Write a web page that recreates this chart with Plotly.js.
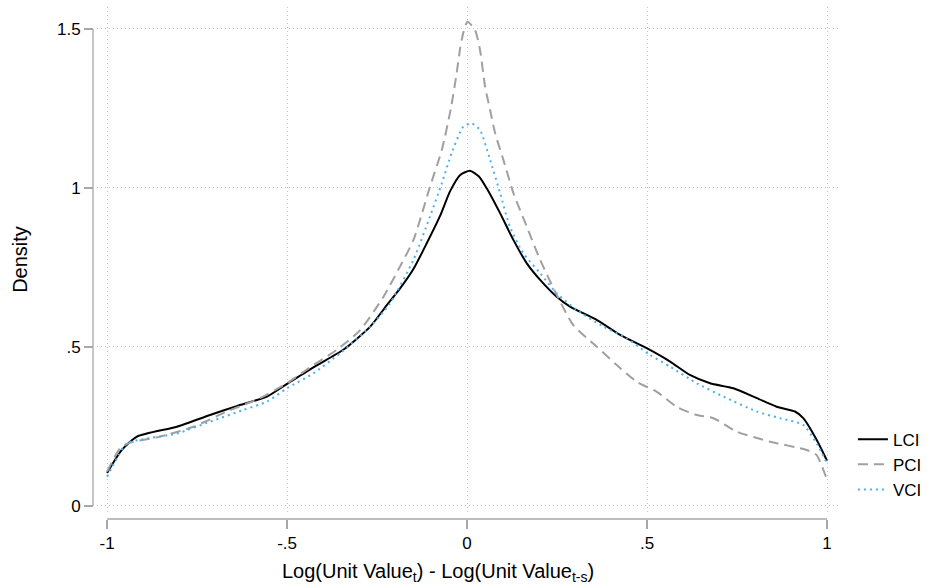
<!DOCTYPE html>
<html>
<head>
<meta charset="utf-8">
<script src="https://cdn.plot.ly/plotly-3.0.1.min.js"></script>
<style>html,body{margin:0;padding:0;background:#fff;}#chart{width:935px;height:586px;}</style>
</head>
<body>
<div id="chart"></div>
<script>
const seriesNames = ["LCI", "PCI", "VCI"];

const lciX = [-1, -0.96, -0.917, -0.806, -0.714, -0.64, -0.556, -0.5, -0.427, -0.344, -0.269, -0.228, -0.186, -0.149, -0.112, -0.075, -0.047, -0.019, 0.008, 0.033, 0.055, 0.092, 0.129, 0.166, 0.203, 0.249, 0.286, 0.36, 0.425, 0.499, 0.564, 0.619, 0.675, 0.74, 0.805, 0.86, 0.911, 0.934, 0.971, 1.0];
const lciY = [0.104, 0.175, 0.218, 0.249, 0.286, 0.314, 0.344, 0.384, 0.436, 0.491, 0.564, 0.624, 0.684, 0.745, 0.826, 0.912, 0.99, 1.041, 1.054, 1.036, 0.998, 0.92, 0.836, 0.763, 0.711, 0.658, 0.627, 0.585, 0.538, 0.496, 0.454, 0.412, 0.386, 0.37, 0.339, 0.312, 0.297, 0.276, 0.208, 0.142];

const pciX = [-1, -0.964, -0.936, -0.853, -0.76, -0.667, -0.575, -0.5, -0.427, -0.362, -0.297, -0.232, -0.19, -0.149, -0.103, -0.07, -0.045, -0.029, -0.019, -0.01, 0.001, 0.022, 0.036, 0.05, 0.064, 0.078, 0.101, 0.129, 0.166, 0.203, 0.249, 0.295, 0.36, 0.416, 0.471, 0.527, 0.582, 0.638, 0.684, 0.749, 0.842, 0.944, 0.971, 1.0];
const pciY = [0.108, 0.181, 0.199, 0.218, 0.249, 0.297, 0.339, 0.386, 0.443, 0.491, 0.553, 0.658, 0.745, 0.836, 1.004, 1.12, 1.25, 1.36, 1.44, 1.49, 1.523, 1.497, 1.434, 1.319, 1.245, 1.172, 1.088, 0.983, 0.878, 0.774, 0.664, 0.569, 0.501, 0.443, 0.391, 0.359, 0.312, 0.286, 0.276, 0.234, 0.202, 0.176, 0.16, 0.082];

const vciX = [-1, -0.945, -0.899, -0.806, -0.714, -0.621, -0.556, -0.5, -0.427, -0.353, -0.269, -0.214, -0.149, -0.103, -0.07, -0.043, -0.01, 0.013, 0.036, 0.064, 0.092, 0.119, 0.156, 0.203, 0.249, 0.305, 0.379, 0.444, 0.508, 0.564, 0.638, 0.712, 0.805, 0.869, 0.934, 0.971, 1.0];
const vciY = [0.092, 0.197, 0.21, 0.228, 0.265, 0.302, 0.328, 0.37, 0.417, 0.48, 0.564, 0.637, 0.774, 0.91, 1.015, 1.109, 1.193, 1.203, 1.182, 1.088, 0.983, 0.878, 0.795, 0.732, 0.669, 0.616, 0.564, 0.527, 0.475, 0.438, 0.386, 0.344, 0.297, 0.276, 0.255, 0.197, 0.134];

const xTickVals = [-1, -0.5, 0, 0.5, 1];
const xTickText = ["-1", "-.5", "0", ".5", "1"];
const yTickVals = [0, 0.5, 1, 1.5];
const yTickText = ["0", ".5", "1", "1.5"];
const xTitle = "Log(Unit Value<sub>t</sub>) - Log(Unit Value<sub>t-s</sub>)";
const yTitle = "Density";

const fam = "Liberation Sans, Arial, sans-serif";

const traces = [
  {x: lciX, y: lciY, name: seriesNames[0], legendgroup: "a", mode: "lines",
   line: {color: "#000000", width: 2, dash: "solid", shape: "spline", smoothing: 0.6}},
  {x: pciX, y: pciY, name: seriesNames[1], legendgroup: "b", mode: "lines",
   line: {color: "#a0a0a0", width: 2, dash: "10px,6px", shape: "spline", smoothing: 0.6}},
  {x: vciX, y: vciY, name: seriesNames[2], legendgroup: "c", mode: "lines",
   line: {color: "#4cb0ee", width: 2, dash: "2px,4px", shape: "spline", smoothing: 0.6}}
];

const layout = {
  width: 935, height: 586,
  margin: {l: 93, r: 95, t: 7, b: 67, pad: 0},
  paper_bgcolor: "#fff", plot_bgcolor: "#fff",
  font: {family: fam, size: 17, color: "#000"},
  showlegend: true,
  legend: {x: 1.0173, xanchor: "left", y: 0.19, yanchor: "top",
           font: {family: fam, size: 17, color: "#000"},
           tracegroupgap: 0, bgcolor: "rgba(0,0,0,0)"},
  xaxis: {
    domain: [4/747, 1], anchor: "free", position: 0,
    range: [-1.028, 1.036],
    tickvals: xTickVals, ticktext: xTickText,
    ticks: "outside", ticklen: 9, tickcolor: "#a8a8a8", tickwidth: 1.3,
    showline: false, zeroline: false,
    showgrid: true, gridcolor: "#c4c4c4", griddash: "1px,3px", gridwidth: 1,
    tickfont: {family: fam, size: 17, color: "#000"},
    title: {text: ""}
  },
  yaxis: {
    domain: [7/512, 1], anchor: "free", position: 0,
    range: [-0.019, 1.569],
    tickvals: yTickVals, ticktext: yTickText,
    ticks: "outside", ticklen: 9, tickcolor: "#a8a8a8", tickwidth: 1.3,
    showline: false, zeroline: false,
    showgrid: true, gridcolor: "#c4c4c4", griddash: "1px,3px", gridwidth: 1,
    tickfont: {family: fam, size: 17, color: "#000"},
    title: {text: yTitle, font: {family: fam, size: 20, color: "#000"}, standoff: 22}
  },
  annotations: [
    {text: xTitle, xref: "paper", yref: "paper", x: 0.4618, y: -0.105,
     xanchor: "center", yanchor: "middle", showarrow: false,
     font: {family: fam, size: 20, color: "#000"}}
  ],
  shapes: [
    {type: "line", xref: "x", yref: "paper", x0: xTickVals[0], x1: xTickVals[xTickVals.length-1], y0: 0, y1: 0,
     line: {color: "#a8a8a8", width: 1.3}},
    {type: "line", xref: "paper", yref: "y", x0: 0, x1: 0, y0: yTickVals[0], y1: yTickVals[yTickVals.length-1],
     line: {color: "#a8a8a8", width: 1.3}}
  ]
};

Plotly.newPlot("chart", traces, layout, {displayModeBar: false, staticPlot: true});
</script>
</body>
</html>
